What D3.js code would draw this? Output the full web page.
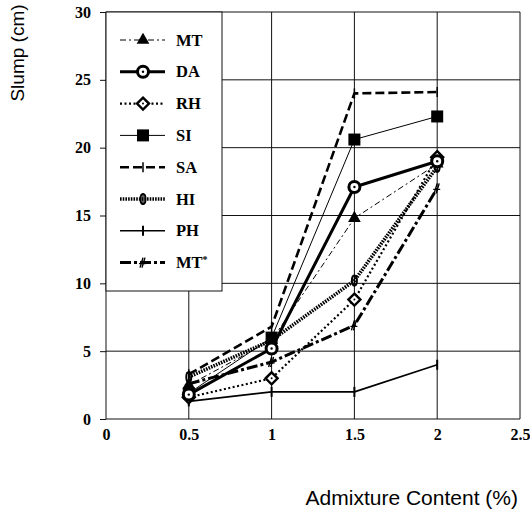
<!DOCTYPE html>
<html><head><meta charset="utf-8">
<script src="https://cdn.jsdelivr.net/npm/d3@7"></script>
<style>body{margin:0;background:#fff}</style>
</head><body>
<svg id="chart" width="530" height="518"></svg>
<script>
const xValues = [0.5, 1, 1.5, 2];
const xTicks = [0, 0.5, 1, 1.5, 2, 2.5];
const yTicks = [0, 5, 10, 15, 20, 25, 30];
const seriesNames = ["MT", "DA", "RH", "SI", "SA", "HI", "PH", "MT*"];
const MT   = [2.5, 5.8, 14.8, 18.8];
const DA   = [1.8, 5.2, 17.1, 19.0];
const RH   = [1.6, 3.0, 8.8, 19.3];
const SI   = [1.9, 6.0, 20.6, 22.3];
const SA   = [3.3, 6.8, 24.0, 24.1];
const HI   = [3.1, 5.8, 10.2, 18.6];
const PH   = [1.3, 2.0, 2.0, 4.0];
const MTs  = [2.6, 4.2, 6.9, 17.0];
const seriesValues = [MT, DA, RH, SI, SA, HI, PH, MTs];

const styles = {
  "MT":  {w:1,   dash:"6 3 2 3", marker:"triangle"},
  "DA":  {w:3,   dash:null,      marker:"circle"},
  "RH":  {w:2.2, dash:"2 2.5",   marker:"diamond"},
  "SI":  {w:1,   dash:null,      marker:"square"},
  "SA":  {w:2.6, dash:"9 4",     marker:"tick"},
  "HI":  {w:3.6, dash:"1.6 1.1", marker:"hatch"},
  "PH":  {w:1.6, dash:null,      marker:"plus"},
  "MT*": {w:3,   dash:"11 3 3 3", marker:"hash"}
};

const svg = d3.select("#chart");
const m = {l:106, r:520, t:12, b:419};
const x = d3.scaleLinear().domain([0, 2.5]).range([m.l, m.r]);
const y = d3.scaleLinear().domain([0, 30]).range([m.b, m.t]);

// gridlines
const g = svg.append("g");
g.selectAll(".hg").data(yTicks).join("line")
  .attr("x1", m.l).attr("x2", m.r)
  .attr("y1", d => y(d)).attr("y2", d => y(d))
  .attr("stroke", "#111").attr("stroke-width", 1);
g.selectAll(".vg").data(xTicks).join("line")
  .attr("y1", m.t).attr("y2", m.b)
  .attr("x1", d => x(d)).attr("x2", d => x(d))
  .attr("stroke", "#111").attr("stroke-width", 1);

// y axis ticks + labels
const yAxis = d3.axisLeft(y).tickValues(yTicks).tickSize(6).tickPadding(9).tickFormat(d3.format("d"));
svg.append("g").attr("transform", `translate(${m.l},0)`).call(yAxis)
  .call(a => a.select(".domain").remove())
  .call(a => a.selectAll("text").attr("font-family", "'Liberation Serif', serif").attr("font-weight", "bold").attr("font-size", 16).attr("fill", "#000"))
  .call(a => a.selectAll("line").attr("stroke", "#111"));

const xAxis = d3.axisBottom(x).tickValues(xTicks).tickSize(0).tickPadding(10)
  .tickFormat(d => d === 0 ? "0" : String(d));
svg.append("g").attr("transform", `translate(0,${m.b})`).call(xAxis)
  .call(a => a.select(".domain").remove())
  .call(a => a.selectAll("text").attr("font-family", "'Liberation Serif', serif").attr("font-weight", "bold").attr("font-size", 16).attr("fill", "#000"));

// axis titles
svg.append("text").attr("transform", "translate(24,53) rotate(-90)")
  .attr("text-anchor", "middle").attr("font-family", "'Liberation Sans', Arial, sans-serif")
  .attr("font-size", 19).text("Slump (cm)");
svg.append("text").attr("x", 518).attr("y", 505)
  .attr("text-anchor", "end").attr("font-family", "'Liberation Sans', Arial, sans-serif")
  .attr("font-size", 21).text("Admixture Content (%)");

function drawMarker(sel, type, cx, cy) {
  const s = sel.append("g").attr("transform", `translate(${cx},${cy})`);
  switch (type) {
    case "triangle":
      s.append("path").attr("d", d3.symbol(d3.symbolTriangle, 70)()).attr("fill", "#000"); break;
    case "circle":
      s.append("circle").attr("r", 5.5).attr("fill", "#fff").attr("stroke", "#000").attr("stroke-width", 3);
      s.append("circle").attr("r", 1.2).attr("fill", "#000"); break;
    case "diamond":
      s.append("path").attr("d", "M0,-6L6,0L0,6L-6,0Z").attr("fill", "#fff").attr("stroke", "#000").attr("stroke-width", 2.4);
      s.append("circle").attr("r", 1).attr("fill", "#000"); break;
    case "square":
      s.append("rect").attr("x", -6).attr("y", -6).attr("width", 12).attr("height", 12).attr("fill", "#000"); break;
    case "tick":
      s.append("line").attr("y1", -5).attr("y2", 5).attr("stroke", "#000").attr("stroke-width", 1.5); break;
    case "hatch":
      s.append("ellipse").attr("rx", 2.5).attr("ry", 5).attr("fill", "none").attr("stroke", "#000").attr("stroke-width", 2);
      s.append("line").attr("y1", -6).attr("y2", 6).attr("stroke", "#000").attr("stroke-width", 1.2); break;
    case "plus":
      s.append("line").attr("y1", -5).attr("y2", 5).attr("stroke", "#000").attr("stroke-width", 2); break;
    case "hash":
      s.append("line").attr("x1", -1).attr("y1", 5).attr("x2", 2).attr("y2", -5).attr("stroke", "#000").attr("stroke-width", 1.4);
      s.append("line").attr("x1", -3).attr("y1", 5).attr("x2", 0).attr("y2", -5).attr("stroke", "#000").attr("stroke-width", 1.4);
      s.append("line").attr("x1", -4).attr("y1", 1).attr("x2", 3).attr("y2", 1).attr("stroke", "#000").attr("stroke-width", 1.2); break;
  }
}

// series lines
const line = d3.line().x((d,i) => x(xValues[i])).y(d => y(d));
const order = [6, 2, 7, 5, 0, 3, 1, 4];
order.forEach(k => {
  const name = seriesNames[k];
  const st = styles[name];
  const vals = seriesValues[k];
  const gg = svg.append("g");
  gg.append("path").datum(vals).attr("d", line)
    .attr("fill", "none").attr("stroke", "#000").attr("stroke-width", st.w)
    .attr("stroke-dasharray", st.dash).attr("stroke-linejoin", "round");
  vals.forEach((v, i) => drawMarker(gg, st.marker, x(xValues[i]), y(v)));
});

// legend
const lg = svg.append("g");
lg.append("rect").attr("x", m.l).attr("y", m.t).attr("width", 116).attr("height", 279)
  .attr("fill", "#fff").attr("stroke", "#111").attr("stroke-width", 1);
seriesNames.forEach((name, i) => {
  const st = styles[name];
  const cy = 40 + i * 31.8;
  lg.append("line").attr("x1", 120).attr("x2", 165).attr("y1", cy).attr("y2", cy)
    .attr("stroke", "#000").attr("stroke-width", st.w).attr("stroke-dasharray", st.dash);
  drawMarker(lg, st.marker, 143, cy);
  const t = lg.append("text").attr("x", 176).attr("y", cy + 5.5)
    .attr("font-family", "'Liberation Serif', serif").attr("font-weight", "bold").attr("font-size", 16.5);
  if (name === "MT*") {
    t.append("tspan").text("MT");
    t.append("tspan").attr("font-size", 10).attr("dy", -5).text("*");
  } else t.text(name);
});
</script>
</body></html>
